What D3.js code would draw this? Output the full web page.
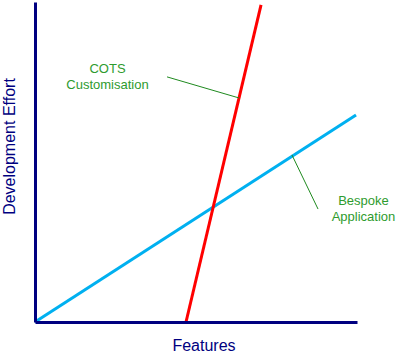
<!DOCTYPE html>
<html><head><meta charset="utf-8">
<script src="https://cdn.jsdelivr.net/npm/d3@7"></script>
<style>html,body{margin:0;padding:0;background:#fff;}svg{display:block;font-family:"Liberation Sans",Arial,sans-serif;}</style>
</head><body>
<script>
// Data (features 0-100, effort 0-100)
const seriesNames = ["Bespoke Application", "COTS Customisation"];
const bespokeFeatures = [0, 99.7];
const bespokeEffort = [0, 64.7];
const cotsFeatures = [46.9, 70.2];
const cotsEffort = [0, 99.1];
const xLabel = "Features";
const yLabel = "Development Effort";

const W = 398, H = 356;
const svg = d3.select("body").append("svg").attr("width", W).attr("height", H);
const x = d3.scaleLinear().domain([0, 100]).range([35, 357]);
const y = d3.scaleLinear().domain([0, 100]).range([322, 2]);

const navy = "#000080";
const green = "#2e9b2e";

// Series lines
const line = d3.line().x(d => x(d[0])).y(d => y(d[1]));
svg.append("path").datum(d3.zip(bespokeFeatures, bespokeEffort))
  .attr("d", line).attr("fill", "none").attr("stroke", "#00b0f0").attr("stroke-width", 3);
svg.append("path").datum(d3.zip(cotsFeatures, cotsEffort))
  .attr("d", line).attr("fill", "none").attr("stroke", "#ff0000").attr("stroke-width", 3);

// Axes
const xAxis = svg.append("g").attr("transform", `translate(0,${y(0)})`)
  .call(d3.axisBottom(x).tickValues([]).tickSizeOuter(0));
const yAxis = svg.append("g").attr("transform", `translate(${x(0)},0)`)
  .call(d3.axisLeft(y).tickValues([]).tickSizeOuter(0));
[xAxis, yAxis].forEach(g => g.select(".domain").attr("stroke", navy).attr("stroke-width", 3));

// Axis labels
svg.append("text").attr("x", 204).attr("y", 350.5).attr("text-anchor", "middle")
  .attr("font-size", 16).attr("fill", navy).text(xLabel);
svg.append("text").attr("transform", "translate(15,146.5) rotate(-90)").attr("text-anchor", "middle")
  .attr("font-size", 16).attr("fill", navy).text(yLabel);

// Annotations
const annos = [
  {lines: ["COTS", "Customisation"], tx: 107.5, ty: 73, from: [41.0, 76.6], to: [63.4, 70.0]},
  {lines: ["Bespoke", "Application"], tx: 363.5, ty: 205, from: [79.8, 52.2], to: [87.9, 35.3]}
];
annos.forEach(a => {
  svg.append("line").attr("x1", x(a.from[0])).attr("y1", y(a.from[1]))
    .attr("x2", x(a.to[0])).attr("y2", y(a.to[1])).attr("stroke", "#1f8a1f").attr("stroke-width", 1);
  const t = svg.append("text").attr("text-anchor", "middle").attr("font-size", 13).attr("fill", green);
  a.lines.forEach((s, i) => t.append("tspan").attr("x", a.tx).attr("y", a.ty + i * 16).text(s));
});
</script>
</body></html>
